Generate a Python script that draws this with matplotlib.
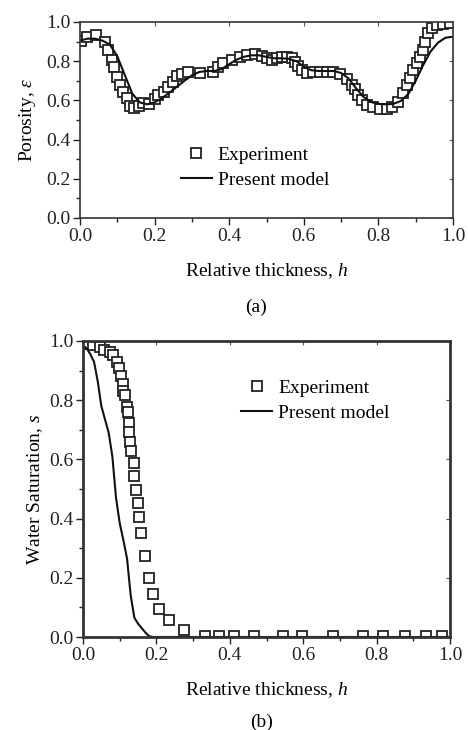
import matplotlib
matplotlib.use("Agg")
import matplotlib.pyplot as plt
from matplotlib.ticker import MultipleLocator

plt.rcParams['font.family'] = ['Liberation Serif', 'DejaVu Serif']
plt.rcParams['mathtext.fontset'] = 'custom'
plt.rcParams['mathtext.it'] = 'Liberation Serif:italic'
plt.rcParams['mathtext.rm'] = 'Liberation Serif'

# ---- Panel (a): porosity ----
exp_a_h = [0.002, 0.018, 0.043, 0.067, 0.074, 0.085, 0.091, 0.100, 0.107, 0.116,
           0.127, 0.134, 0.145, 0.159, 0.170, 0.186, 0.201, 0.210, 0.224, 0.237,
           0.250, 0.259, 0.273, 0.290, 0.322, 0.356, 0.371, 0.384, 0.407, 0.429,
           0.447, 0.469, 0.487, 0.501, 0.514, 0.527, 0.541, 0.554, 0.568, 0.576,
           0.585, 0.594, 0.608, 0.625, 0.643, 0.661, 0.679, 0.697, 0.715, 0.729,
           0.737, 0.746, 0.755, 0.769, 0.786, 0.804, 0.822, 0.836, 0.853, 0.867,
           0.876, 0.885, 0.894, 0.903, 0.912, 0.919, 0.925, 0.934, 0.943, 0.956,
           0.974, 0.992]
exp_a_eps = [0.905, 0.925, 0.935, 0.900, 0.857, 0.806, 0.772, 0.721, 0.679, 0.644,
             0.611, 0.571, 0.560, 0.571, 0.585, 0.582, 0.605, 0.628, 0.644, 0.667,
             0.695, 0.724, 0.735, 0.746, 0.741, 0.746, 0.772, 0.789, 0.806, 0.823,
             0.832, 0.835, 0.827, 0.815, 0.806, 0.818, 0.823, 0.820, 0.815, 0.798,
             0.776, 0.755, 0.741, 0.746, 0.746, 0.746, 0.746, 0.735, 0.708, 0.679,
             0.657, 0.628, 0.602, 0.577, 0.565, 0.555, 0.555, 0.568, 0.593, 0.636,
             0.679, 0.713, 0.755, 0.789, 0.823, 0.857, 0.900, 0.942, 0.968, 0.985,
             0.990, 0.993]

mod_a_h = [0.00, 0.02, 0.04, 0.06, 0.08, 0.10, 0.12, 0.14, 0.16, 0.18, 0.20, 0.22,
           0.24, 0.26, 0.28, 0.30, 0.32, 0.34, 0.36, 0.38, 0.40, 0.42, 0.44, 0.46,
           0.48, 0.50, 0.52, 0.54, 0.56, 0.58, 0.60, 0.62, 0.64, 0.66, 0.68, 0.70,
           0.72, 0.74, 0.76, 0.78, 0.80, 0.82, 0.84, 0.86, 0.88, 0.90, 0.92, 0.94,
           0.96, 0.98, 1.00]
mod_a_eps = [0.905, 0.915, 0.915, 0.905, 0.885, 0.825, 0.730, 0.635, 0.590, 0.580,
             0.590, 0.612, 0.640, 0.670, 0.700, 0.728, 0.745, 0.750, 0.750, 0.760,
             0.785, 0.808, 0.823, 0.830, 0.830, 0.822, 0.815, 0.815, 0.812, 0.800,
             0.772, 0.754, 0.750, 0.750, 0.750, 0.740, 0.712, 0.662, 0.618, 0.592,
             0.582, 0.580, 0.582, 0.597, 0.632, 0.700, 0.780, 0.850, 0.895, 0.920,
             0.925]

# ---- Panel (b): water saturation ----
exp_b_h = [0.005, 0.028, 0.045, 0.058, 0.074, 0.081, 0.094, 0.099, 0.103, 0.108,
           0.110, 0.114, 0.119, 0.122, 0.124, 0.126, 0.128, 0.131, 0.139, 0.140,
           0.145, 0.149, 0.152, 0.157, 0.170, 0.180, 0.190, 0.207, 0.233, 0.274,
           0.333, 0.371, 0.412, 0.466, 0.546, 0.596, 0.682, 0.762, 0.818, 0.877,
           0.935, 0.977]
exp_b_s = [0.990, 0.986, 0.979, 0.970, 0.964, 0.953, 0.930, 0.908, 0.882, 0.854,
           0.832, 0.817, 0.778, 0.761, 0.724, 0.693, 0.659, 0.629, 0.588, 0.545,
           0.498, 0.453, 0.406, 0.350, 0.274, 0.201, 0.144, 0.096, 0.056, 0.025,
           0.004, 0.004, 0.004, 0.004, 0.004, 0.004, 0.004, 0.004, 0.004, 0.004,
           0.004, 0.004]

mod_b_h = [0.00, 0.01, 0.02, 0.03, 0.04, 0.05, 0.06, 0.07, 0.08, 0.09, 0.10, 0.11,
           0.12, 0.13, 0.14, 0.15, 0.16, 0.17, 0.18, 0.19, 1.00]
mod_b_s = [0.985, 0.975, 0.955, 0.930, 0.865, 0.780, 0.735, 0.690, 0.610, 0.470,
           0.385, 0.327, 0.265, 0.140, 0.065, 0.045, 0.030, 0.015, 0.003, 0.000,
           0.000]

FS = 14
fig = plt.figure(figsize=(4.68, 7.30), dpi=100)
ax1 = fig.add_axes([80/468, 1 - 218/730, 373/468, 196/730])
ax2 = fig.add_axes([83/468, 1 - 637/730, 367/468, 296/730])


def style(ax, lw):
    ax.set_xlim(0, 1)
    ax.set_ylim(0, 1)
    ax.xaxis.set_major_locator(MultipleLocator(0.2))
    ax.xaxis.set_minor_locator(MultipleLocator(0.1))
    ax.yaxis.set_major_locator(MultipleLocator(0.2))
    ax.yaxis.set_minor_locator(MultipleLocator(0.1))
    ax.xaxis.set_major_formatter(matplotlib.ticker.FormatStrFormatter('%.1f'))
    ax.yaxis.set_major_formatter(matplotlib.ticker.FormatStrFormatter('%.1f'))
    for s in ax.spines.values():
        s.set_linewidth(lw)
        s.set_color('#333333')
    ax.tick_params(which='major', direction='out', length=5, width=1,
                   labelsize=FS, colors='#222222', pad=2)
    ax.tick_params(which='minor', direction='out', length=3, width=1,
                   colors='#222222')
    ax.tick_params(which='both', top=False, right=False)
    # inward ticks on top/right via secondary axes
    sx = ax.secondary_xaxis('top')
    sx.xaxis.set_major_locator(MultipleLocator(0.2))
    sx.tick_params(direction='in', length=3, width=0.8, labeltop=False,
                   colors='#555555')
    sx.spines['top'].set_visible(False)
    sy = ax.secondary_yaxis('right')
    sy.yaxis.set_major_locator(MultipleLocator(0.2))
    sy.tick_params(direction='in', length=3, width=0.8, labelright=False,
                   colors='#555555')
    sy.spines['right'].set_visible(False)


style(ax1, 1.2)
style(ax2, 2.0)

mk = dict(marker='s', linestyle='none', markersize=6.5, markerfacecolor='white',
          markeredgecolor='#222222', markeredgewidth=1.3)

leg_kw = dict(frameon=False, fontsize=FS, handlelength=1.6, handletextpad=0.3,
              borderpad=0.2, labelspacing=0.38, borderaxespad=0)

ax1.plot(exp_a_h, exp_a_eps, label='Experiment', **mk)
ax1.plot(mod_a_h, mod_a_eps, color='#111111', lw=1.5, label='Present model')
ax1.set_xlabel('Relative thickness, $h$', fontsize=FS, labelpad=12)
ax1.set_ylabel('Porosity, $\\varepsilon$', fontsize=FS, labelpad=6)
ax1.legend(loc='upper left', bbox_to_anchor=(0.26, 0.385), **leg_kw)

ax2.plot(exp_b_h, exp_b_s, label='Experiment', **mk)
ax2.plot(mod_b_h, mod_b_s, color='#111111', lw=1.5, label='Present model')
ax2.set_xlabel('Relative thickness, $h$', fontsize=FS, labelpad=12)
ax2.set_ylabel('Water Saturation, $s$', fontsize=FS, labelpad=3)
ax2.legend(loc='upper left', bbox_to_anchor=(0.42, 0.885), **leg_kw)

fig.text(256/468, 1 - 307/730, '(a)', ha='center', va='center', fontsize=FS)
fig.text(262/468, 1 - 722/730, '(b)', ha='center', va='center', fontsize=FS)

fig.savefig('out.png', dpi=100)
